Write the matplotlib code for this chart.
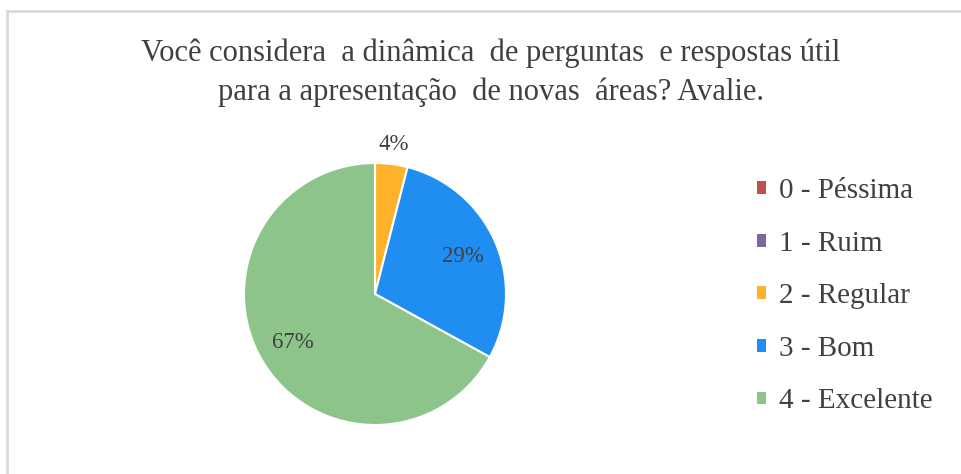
import matplotlib.pyplot as plt
from matplotlib.lines import Line2D

categories = ["0 - Péssima", "1 - Ruim", "2 - Regular", "3 - Bom", "4 - Excelente"]
values = [0, 0, 4, 29, 67]
colors = ["#c0504d", "#8064a2", "#fdb22a", "#1f8ef0", "#8dc48a"]

title = "Você considera  a dinâmica  de perguntas  e respostas útil\npara a apresentação  de novas  áreas? Avalie."

plt.rcParams["font.family"] = ["Liberation Serif", "DejaVu Serif"]
text_color = "#404040"

W, H = 961, 474
fig = plt.figure(figsize=(W / 100, H / 100), dpi=100)

# pie center and radius in pixels
cx, cy, r = 375, 294, 131
ax = fig.add_axes([(cx - r) / W, (H - cy - r) / H, 2 * r / W, 2 * r / H])

wedges, texts, autotexts = ax.pie(
    values, colors=colors, startangle=90, counterclock=False,
    autopct=lambda p: "%.0f%%" % p if p > 0 else "",
    pctdistance=0.73,
    wedgeprops=dict(edgecolor="white", linewidth=1.5),
    textprops=dict(color=text_color, fontsize=16.5),
)
# small slice label goes outside
for w, t, v in zip(wedges, autotexts, values):
    if 0 < v < 10:
        x, y = t.get_position()
        scale = 1.15 / 0.73
        t.set_position((x * scale, y * scale))
ax.set_xlim(-1, 1)
ax.set_ylim(-1, 1)
ax.set_aspect("equal")

fig.text(491 / W, 1 - 39 / H, title, ha="center", va="top",
         fontsize=22, color=text_color, linespacing=1.42)

leg = fig.legend(wedges, categories, loc="upper left",
                 bbox_to_anchor=(731 / W, 1 - 152 / H), frameon=False,
                 fontsize=21, handlelength=0.3, handleheight=0.3,
                 handletextpad=0.45, labelspacing=0.91, labelcolor=text_color)
for h in leg.legend_handles:
    h.set_linewidth(0)

# light border of the chart area
border = "#d9d9d9"
fig.add_artist(Line2D([6.5 / W, 1], [1 - 11 / H, 1 - 11 / H], color=border, lw=2))
fig.add_artist(Line2D([6.5 / W, 6.5 / W], [0, 1 - 11 / H], color=border, lw=2))

fig.savefig("out.png", dpi=100)
